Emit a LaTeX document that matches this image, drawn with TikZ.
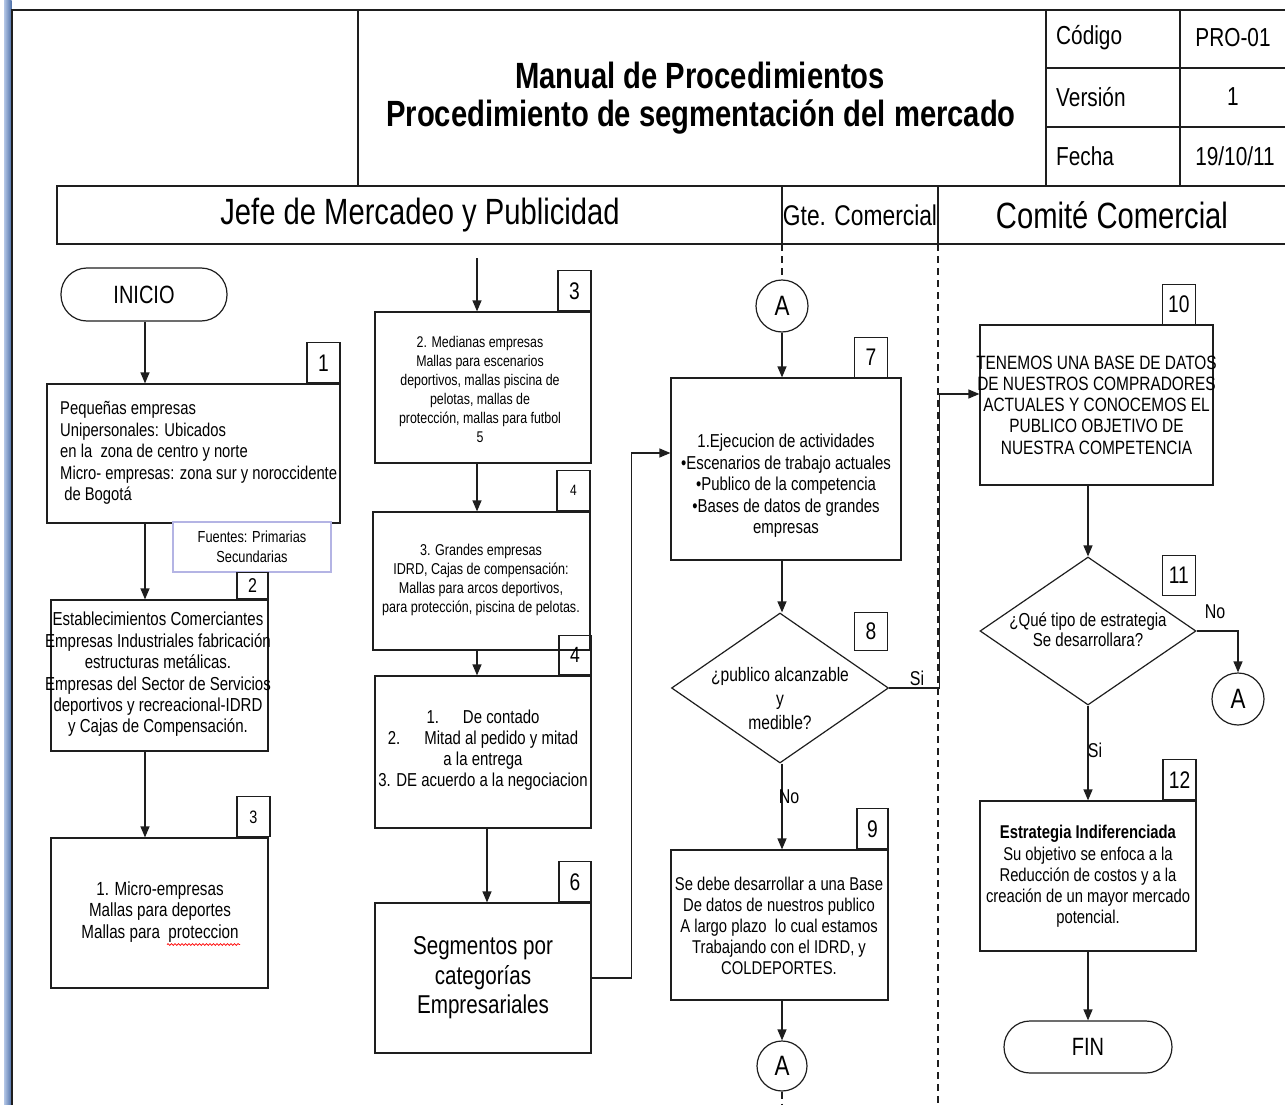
\documentclass[tikz,border=0pt]{standalone}
\usepackage{fontspec}
\setmainfont{Liberation Sans}[FakeStretch=0.8]
\usetikzlibrary{arrows.meta,shapes.geometric,decorations.pathmorphing}

\newcommand\fsz[2]{\fontsize{#1}{#2}\selectfont}
\definecolor{framecol}{HTML}{1E1E1E}
\definecolor{barlight}{HTML}{B3C6E6}
\definecolor{bardark}{HTML}{4E70A8}
\definecolor{notecol}{HTML}{B4B4E4}

\begin{document}
\begin{tikzpicture}[x=1pt,y=-1pt,
  line/.style={draw=framecol, line width=1.2pt},
  arr/.style={line, -{Triangle[length=11pt,width=9pt]}},
  stepbox/.style={line, fill=white, rectangle, inner sep=0pt},
  numbox/.style={line, rectangle, inner sep=0pt, minimum width=33pt, minimum height=40pt, font=\fsz{24}{26}},
  term/.style={line, rectangle, rounded corners=26pt, inner sep=0pt, font=\fsz{25}{28}},
  conn/.style={line, circle, inner sep=0pt, minimum size=52pt, font=\fsz{28}{30}},
  decision/.style={line, diamond, inner sep=0pt},
  txt/.style={inner sep=0pt, align=center, text=black},
  lbl/.style={inner sep=0pt, font=\fsz{20}{22}}
]
\useasboundingbox (0,0) rectangle (1285,1105);

% page edge
\shade[left color=barlight, right color=bardark] (4,0) rectangle (11.5,1105);
\draw[line] (12,1105) -- (12,10) -- (1285,10);

% header block
\draw[line] (358,10) -- (358,186);
\node[txt, font=\bfseries\fsz{36.5}{40}] (title1) at (700,75) {Manual de Procedimientos};
\node[txt, font=\bfseries\fsz{36.5}{40}] (title2) at (701,117) {Procedimiento de segmentación del mercado};

% document data table
\draw[line] (1046,10) -- (1046,186);
\draw[line] (1180,10) -- (1180,186);
\draw[line] (1046,68) -- (1285,68);
\draw[line] (1046,127) -- (1285,127);
\node[txt, font=\fsz{26}{28}, anchor=west] (kcod) at (1056,38) {Código};
\node[txt, font=\fsz{26}{28}] (vcod) at (1233,38) {PRO-01};
\node[txt, font=\fsz{26}{28}, anchor=west] (kver) at (1056,97) {Versión};
\node[txt, font=\fsz{26}{28}] (vver) at (1233,97) {1};
\node[txt, font=\fsz{26}{28}, anchor=west] (kfec) at (1056,156) {Fecha};
\node[txt, font=\fsz{26}{28}] (vfec) at (1235,156) {19/10/11};

% swimlane headers
\draw[line] (1285,186) -- (57,186) -- (57,244) -- (1285,244);
\draw[line] (782,186) -- (782,244);
\draw[line] (938,186) -- (938,244);
\node[txt, font=\fsz{36.5}{40}] (laneA) at (420,215) {Jefe de Mercadeo y Publicidad};
\node[txt, font=\fsz{28.5}{30}] (laneB) at (860,215) {Gte. Comercial};
\node[txt, font=\fsz{36.5}{40}] (laneC) at (1112,215) {Comité Comercial};
\coordinate (divB) at (782,244);
\coordinate (divC) at (938,244);
\draw[line, dashed, dash pattern=on 7pt off 5pt] (divC) -- (938,1105);

% ---------- column 1 ----------
\node[term, minimum width=166pt, minimum height=53pt] (inicio) at (144,294.5) {INICIO};
\coordinate (c1) at (145,0);

\node[stepbox, minimum width=293pt, minimum height=139pt] (b1) at (193.5,453.5) {};
\node[txt, align=left, anchor=west, font=\fsz{18.5}{21.4}] (b1t) at (60,453) {Pequeñas empresas\\Unipersonales: Ubicados\\en la\ \ zona de centro y norte\\Micro- empresas: zona sur y noroccidente\\\ de Bogotá};
\node[numbox, fill=white, anchor=south east] (n1) at (b1.north east) {1};

\node[draw=notecol, line width=1.6pt, fill=white, minimum width=158pt, minimum height=50pt, inner sep=0pt] (src) at (252,547) {};
\node[txt, font=\fsz{16}{20}] (srct) at (src.center) {Fuentes: Primarias\\Secundarias};

\node[stepbox, minimum width=217pt, minimum height=151pt] (b2) at (159.5,675.5) {};
\node[txt, font=\fsz{18.8}{21.4}] (b2t) at (158,674.5) {Establecimientos Comerciantes\\Empresas Industriales fabricación\\estructuras metálicas.\\Empresas del Sector de Servicios\\deportivos y recreacional-IDRD\\y Cajas de Compensación.};
\node[numbox, fill=white, minimum width=31pt, minimum height=26pt, font=\fsz{20}{22}, anchor=south east] (n2) at (b2.north east) {2};

\node[stepbox, minimum width=217pt, minimum height=150pt] (b3) at (159.5,913) {};
\node[txt, font=\fsz{19}{21.5}] (b3t) at (160,912) {1. Micro-empresas\\Mallas para deportes\\Mallas para\ \ proteccion};
\node[numbox, fill=white, minimum width=33pt, minimum height=40pt, font=\fsz{18}{20}, anchor=south east] (n3a) at ([xshift=2pt]b3.north east) {3};
\draw[red, line width=0.7pt, decorate, decoration={snake, amplitude=0.9pt, segment length=3.5pt}] (167,944.5) -- (240,944.5);

\draw[arr] (inicio.south -| c1) -- (b1.north -| c1);
\draw[arr] (b1.south -| c1) -- (b2.north -| c1);
\draw[arr] (b2.south -| c1) -- (b3.north -| c1);

% ---------- column 2 ----------
\coordinate (c2) at (477,258);
\node[stepbox, minimum width=216pt, minimum height=151pt] (bmed) at (483,387.5) {};
\node[txt, font=\fsz{15.5}{19}] (bmedt) at (480,389.5) {2. Medianas empresas\\Mallas para escenarios\\deportivos, mallas piscina de\\pelotas, mallas de\\protección, mallas para futbol\\5};
\node[numbox, fill=white, anchor=south east] (n3b) at (bmed.north east) {3};

\node[stepbox, minimum width=217pt, minimum height=138pt] (bgra) at (481.5,581) {};
\node[txt, font=\fsz{15.7}{19}] (bgrat) at (481,579.5) {3. Grandes empresas\\IDRD, Cajas de compensación:\\Mallas para arcos deportivos,\\para protección, piscina de pelotas.};
\node[numbox, fill=white, font=\fsz{15}{17}, anchor=south east] (n4a) at (bgra.north east) {4};

\node[stepbox, minimum width=216pt, minimum height=152pt] (bpay) at (483,752) {};
\node[txt, font=\fsz{18.7}{21}] (bpayt) at (483,750.5) {1.\hspace{24pt}De contado\\2.\hspace{24pt}Mitad al pedido y mitad\\a la entrega\\3. DE acuerdo a la negociacion};
\node[numbox, minimum width=32pt, minimum height=39pt, font=\fsz{22}{24}, anchor=south east] (n4b) at (bpay.north east) {4};

\node[stepbox, minimum width=216pt, minimum height=150pt] (b6) at (483,978) {};
\node[txt, font=\fsz{25.8}{29.5}] (b6t) at (b6.center) {Segmentos por\\categorías\\Empresariales};
\node[numbox, fill=white, minimum width=32pt, anchor=south east] (n6) at (b6.north east) {6};
\coordinate (c2b) at (487,0);

\draw[arr] (c2) -- (bmed.north -| c2);
\draw[arr] (bmed.south -| c2) -- (bgra.north -| c2);
\draw[arr] (bgra.south -| c2) -- (bpay.north -| c2);
\draw[arr] (bpay.south -| c2b) -- (b6.north -| c2b);

% ---------- column 3 ----------
\node[conn] (a1) at (782,306) {A};
\node[stepbox, minimum width=230pt, minimum height=182pt] (b7) at (786,469) {};
\node[txt, font=\fsz{18.7}{21.5}] (b7t) at (786,486) {1.Ejecucion de actividades\\•Escenarios de trabajo actuales\\•Publico de la competencia\\•Bases de datos de grandes\\empresas};
\node[numbox, fill=white, anchor=south east] (n7) at (888,378) {7};

\node[decision, minimum width=217pt, minimum height=150pt] (d8) at (780,688) {};
\node[txt, font=\fsz{19.5}{24}] (d8t) at (780,699) {¿publico alcanzable\\y\\medible?};
\node[numbox, minimum width=33pt, minimum height=38pt, anchor=north east] (n8) at (888,612) {8};

\node[stepbox, minimum width=217pt, minimum height=150pt] (b9) at (779.5,925) {};
\node[txt, font=\fsz{18.5}{21}] (b9t) at (779,926) {Se debe desarrollar a una Base\\De datos de nuestros publico\\A largo plazo\ \ lo cual estamos\\Trabajando con el IDRD, y\\COLDEPORTES.};
\node[numbox, fill=white, minimum width=31pt, anchor=south east] (n9) at (b9.north east) {9};

\node[conn, minimum size=50pt] (a2) at (782,1066) {A};

\draw[line, dashed, dash pattern=on 7pt off 5pt] (divB) -- (a1.north);
\draw[arr] (a1.south) -- (b7.north -| a1.south);
\draw[arr] (b7.south -| a1.south) -- (d8.north -| a1.south);
\draw[arr] (d8.south -| a1.south) -- (b9.north -| a1.south);
\draw[arr] (b9.south -| a1.south) -- (a2.north);
\draw[line, dashed, dash pattern=on 7pt off 5pt] (a2.south) -- (782,1105);
\node[lbl] (lno1) at (789,797) {No};
\node[lbl] (lsi1) at (917,678) {Si};

% ---------- column 4 ----------
\node[stepbox, minimum width=233pt, minimum height=160pt] (b10) at (1096.5,405) {};
\node[txt, font=\fsz{19.3}{21.2}] (b10t) at (b10.center) {TENEMOS UNA BASE DE DATOS\\DE NUESTROS COMPRADORES\\ACTUALES Y CONOCEMOS EL\\PUBLICO OBJETIVO DE\\NUESTRA COMPETENCIA};
\node[numbox, fill=white, anchor=south east] (n10) at (1196,325) {10};

\node[decision, minimum width=216pt, minimum height=148pt] (d11) at (1088,631) {};
\node[txt, font=\fsz{18.8}{20}] (d11t) at (1088,630) {¿Qué tipo de estrategia\\Se desarrollara?};
\node[numbox, minimum width=33pt, minimum height=40pt, anchor=north east] (n11) at (1196,555) {11};

\node[conn] (a3) at (1238,699) {A};

\node[stepbox, minimum width=216pt, minimum height=150pt] (b12) at (1088,876) {};
\node[txt, font=\fsz{18.5}{21.2}] (b12t) at (1088,876.5) {\textbf{Estrategia Indiferenciada}\\Su objetivo se enfoca a la\\Reducción de costos y a la\\creación de un mayor mercado\\potencial.};
\node[numbox, fill=white, anchor=south east] (n12) at (b12.north east) {12};

\node[term, minimum width=168pt, minimum height=52pt] (fin) at (1088,1047) {FIN};

\draw[arr] (d8.east) -- ++(50,0) |- ([yshift=11pt]b10.west);
\draw[arr] (b6.east) -- ++(40,0) |- ([yshift=16pt]b7.west);
\draw[arr] (b10.south -| d11.north) -- (d11.north);
\draw[arr] (d11.east) -| (a3.north);
\draw[arr] (d11.south) -- (b12.north);
\draw[arr] (b12.south) -- (fin.north);
\node[lbl] (lno2) at (1215,612) {No};
\node[lbl] (lsi2) at (1095,750) {Si};
\end{tikzpicture}
\end{document}
